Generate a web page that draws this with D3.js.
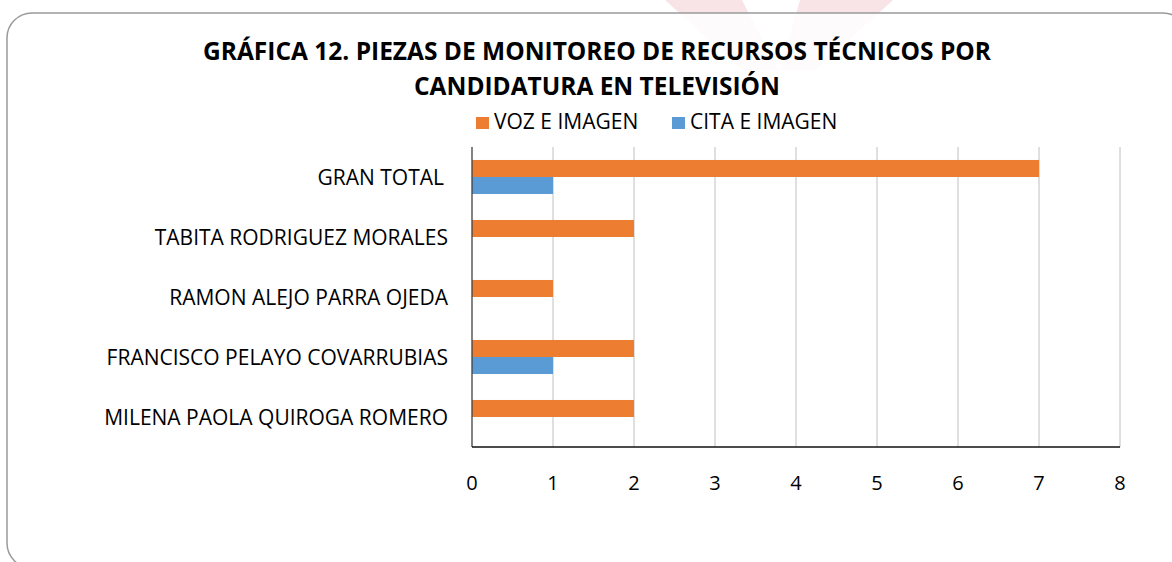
<!DOCTYPE html>
<html>
  <head>
    <meta charset="utf-8" />
    <style>
      body {
        margin: 0;
        background: #fff;
      }
      text {
        font-family: "Open Sans", sans-serif;
        fill: #000;
      }
      .grid line {
        stroke: #c0c0c0;
        stroke-width: 1px;
      }
    </style>
  </head>
  <body>
    <svg width="1172" height="562"></svg>
    <script src="https://d3js.org/d3.v7.min.js"></script>
    <script>
      var categories = [
        "GRAN TOTAL",
        "TABITA RODRIGUEZ MORALES",
        "RAMON ALEJO PARRA OJEDA",
        "FRANCISCO PELAYO COVARRUBIAS",
        "MILENA PAOLA QUIROGA ROMERO",
      ];
      var series = ["VOZ E IMAGEN", "CITA E IMAGEN"];
      var vozImagen = [7, 2, 1, 2, 2];
      var citaImagen = [1, 0, 0, 1, 0];
      var tickValues = [0, 1, 2, 3, 4, 5, 6, 7, 8];
      var titleLines = [
        "GRÁFICA 12. PIEZAS DE MONITOREO DE RECURSOS TÉCNICOS POR",
        "CANDIDATURA EN TELEVISIÓN",
      ];

      var color = { "VOZ E IMAGEN": "#ED7D31", "CITA E IMAGEN": "#5B9BD5" };

      var svg = d3.select("svg");

      // faint logo watermark behind the frame
      var wm = svg.append("g").attr("fill", "#f8e4e7");
      wm.append("polygon").attr("points", "665,0 742,0 778,70 742,70");
      wm.append("polygon").attr("points", "800,0 893,0 816,70 780,70");

      // rounded chart frame
      svg
        .append("rect")
        .attr("x", 7)
        .attr("y", 13)
        .attr("width", 1181)
        .attr("height", 555)
        .attr("rx", 25)
        .attr("fill", "rgba(255,255,255,0.85)")
        .attr("stroke", "#9a9a9a")
        .attr("stroke-width", 1.5);

      // title
      svg
        .append("g")
        .selectAll("text")
        .data(titleLines)
        .enter()
        .append("text")
        .attr("x", 597)
        .attr("y", function (d, i) {
          return 60 + i * 35;
        })
        .attr("text-anchor", "middle")
        .attr("font-size", "24.5px")
        .attr("font-weight", "bold")
        .text(function (d) {
          return d;
        })
        .each(function (d, i) {
          var want = i == 0 ? 792 : 366;
          if (this.getComputedTextLength() > want) {
            d3.select(this)
              .attr("textLength", want)
              .attr("lengthAdjust", "spacingAndGlyphs");
          }
        });

      // legend
      var legendX = [476, 672];
      var legend = svg
        .append("g")
        .selectAll("g")
        .data(series)
        .enter()
        .append("g")
        .attr("transform", function (d, i) {
          return "translate(" + legendX[i] + ",0)";
        });
      legend
        .append("rect")
        .attr("y", 117)
        .attr("width", 13)
        .attr("height", 12)
        .attr("fill", function (d) {
          return color[d];
        });
      legend
        .append("text")
        .attr("x", 18)
        .attr("y", 129)
        .attr("font-size", "21px")
        .text(function (d) {
          return d;
        });

      var x = d3.scaleLinear().domain([0, 8]).range([472, 1120]);

      var y = d3
        .scaleBand()
        .domain(categories)
        .range([147, 447])
        .paddingInner(0.433)
        .paddingOuter(0.2165);

      var y1 = d3.scaleBand().domain(series).range([0, y.bandwidth()]);

      // vertical gridlines
      svg
        .append("g")
        .attr("class", "grid")
        .selectAll("line")
        .data(tickValues.slice(1))
        .enter()
        .append("line")
        .attr("x1", function (d) {
          return x(d);
        })
        .attr("x2", function (d) {
          return x(d);
        })
        .attr("y1", 147)
        .attr("y2", 447);

      var rows = categories.map(function (c, i) {
        return { name: c, values: [vozImagen[i], citaImagen[i]] };
      });

      var group = svg
        .append("g")
        .selectAll("g")
        .data(rows)
        .enter()
        .append("g")
        .attr("transform", function (d) {
          return "translate(0," + y(d.name) + ")";
        });

      group
        .selectAll("rect")
        .data(function (d) {
          return series.map(function (s, j) {
            return { key: s, value: d.values[j] };
          });
        })
        .enter()
        .append("rect")
        .attr("x", x(0))
        .attr("y", function (d) {
          return y1(d.key);
        })
        .attr("height", y1.bandwidth())
        .attr("width", function (d) {
          return x(d.value) - x(0);
        })
        .attr("fill", function (d) {
          return color[d.key];
        });

      // category labels
      svg
        .append("g")
        .selectAll("text")
        .data(categories)
        .enter()
        .append("text")
        .attr("x", function (d, i) {
          return i == 0 ? 444 : 448;
        })
        .attr("y", function (d) {
          return y(d) + y.bandwidth() / 2;
        })
        .attr("dy", "0.36em")
        .attr("text-anchor", "end")
        .attr("font-size", "21px")
        .text(function (d) {
          return d;
        });

      // axis lines
      svg
        .append("line")
        .attr("x1", x(0))
        .attr("x2", x(0))
        .attr("y1", 147)
        .attr("y2", 447)
        .attr("stroke", "#404040")
        .attr("stroke-width", 1.3);
      svg
        .append("line")
        .attr("x1", x(0))
        .attr("x2", x(8))
        .attr("y1", 447)
        .attr("y2", 447)
        .attr("stroke", "#111")
        .attr("stroke-width", 1.5);

      // tick labels
      svg
        .append("g")
        .selectAll("text")
        .data(tickValues)
        .enter()
        .append("text")
        .attr("x", function (d) {
          return x(d);
        })
        .attr("y", 490)
        .attr("text-anchor", "middle")
        .attr("font-size", "20px")
        .text(function (d) {
          return d;
        });
    </script>
  </body>
</html>
